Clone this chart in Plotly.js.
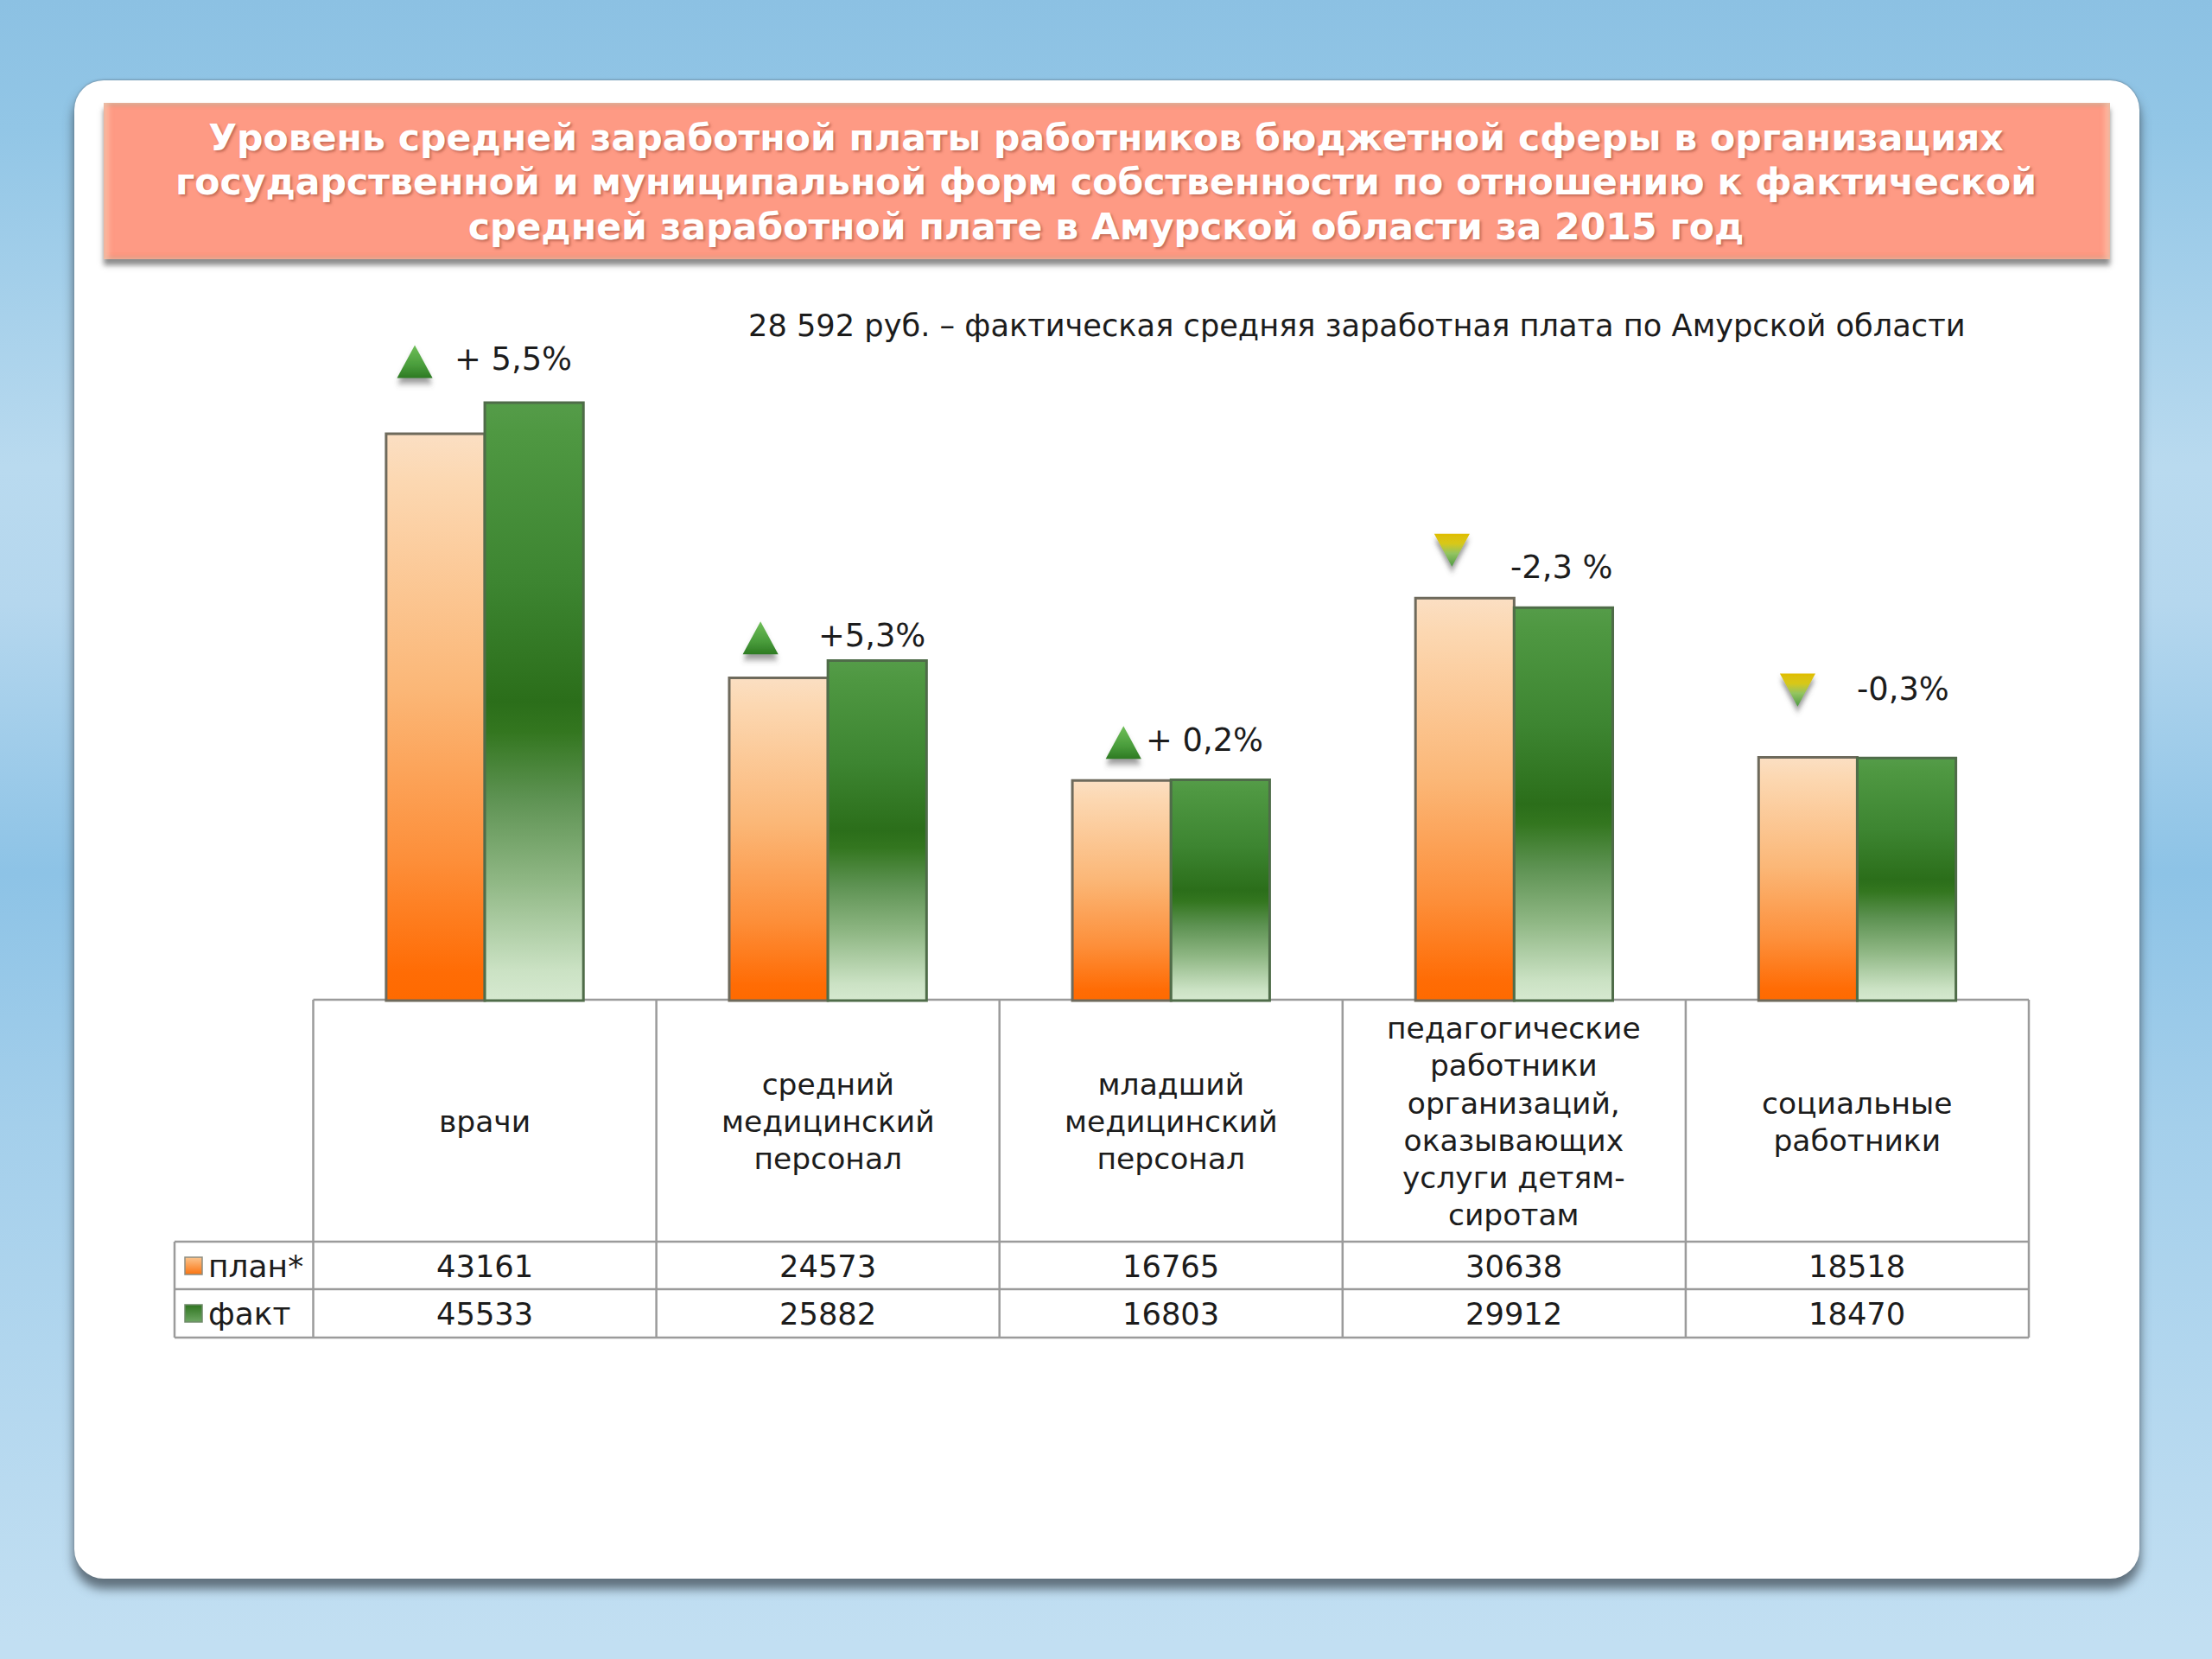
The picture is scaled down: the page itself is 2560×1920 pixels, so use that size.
<!DOCTYPE html>
<html>
<head>
<meta charset="utf-8">
<script src="https://cdn.plot.ly/plotly-3.0.1.min.js"></script>
<style>
html,body{margin:0;padding:0;width:2560px;height:1920px;overflow:hidden}
body{background:linear-gradient(180deg,#8cc1e3 0,#92c6e6 150px,#b9daef 540px,#b5d7ee 700px,#8dc3e6 1010px,#a4cfeb 1300px,#c2dff2 1900px);position:relative}
#panel{position:absolute;left:86px;top:93px;width:2390px;height:1734px;background:#fff;border-radius:34px;box-shadow:0 11px 12px 1px rgba(60,70,80,.72),0 -1px 2px rgba(80,90,100,.4);}
#band{position:absolute;left:120px;top:119px;width:2322px;height:181px;background:#fe9a84;box-shadow:inset 5px 0 6px rgba(255,225,200,.55),inset -5px 0 6px rgba(255,225,200,.55),inset 0 3px 4px rgba(170,120,100,.6),inset 0 -3px 4px rgba(200,110,90,.6),0 7px 6px rgba(70,70,70,.62)}
#chart{position:absolute;left:0;top:0;width:2560px;height:1920px}
</style>
</head>
<body>
<div id="panel"></div>
<div id="band"></div>
<div id="chart"></div>
<script>
var categories = ["врачи", "средний<br>медицинский<br>персонал", "младший<br>медицинский<br>персонал", "педагогические<br>работники<br>организаций,<br>оказывающих<br>услуги детям-<br>сиротам", "социальные<br>работники"];
var planName = "план*";
var factName = "факт";
var planValues = [43161, 24573, 16765, 30638, 18518];
var factValues = [45533, 25882, 16803, 29912, 18470];
var changeLabels = ["+ 5,5%", "+5,3%", "+ 0,2%", "-2,3 %", "-0,3%"];
var changeUp = [true, true, true, false, false];
var titleText = "Уровень средней заработной платы работников бюджетной сферы в организациях<br>государственной и муниципальной форм собственности по отношению к фактической<br>средней заработной плате в Амурской области за 2015 год";
var captionText = "28 592 руб. – фактическая средняя заработная плата по Амурской области";

/* layout geometry (pixels) */
var L = 362.5, R = 2348, BASE = 1158, W = 2560, H = 1920;
var colW = (R - L) / 5, pxPerUnit = 0.0152;
var FONT = "DejaVu Sans, Verdana, sans-serif", INK = "#1c1c1c", GRID = "#9b9b9b";
var xOf = function (px) { return (px - L) / colW - 0.5; };
var yOf = function (py) { return (BASE - py) / pxPerUnit; };

/* placement of the trend marks relative to each group's centre and top */
var markDx = [-81, -78, -55, -72, -69], markDy = [41, 20, 37, 73, 85];
var textDx = [33, 51, 39, 55, 53], textDy = [50, 29, 46, 47, 80];

var idx = categories.map(function (_, i) { return i; });
var markY = idx.map(function (i) { return factValues[i] + markDy[i] / pxPerUnit; });
var markX = idx.map(function (i) { return i + markDx[i] / colW; });

var upI = idx.filter(function (i) { return changeUp[i]; });
var dnI = idx.filter(function (i) { return !changeUp[i]; });

var traces = [
  { type: "bar", name: planName, x: idx, y: planValues, showlegend: false, hoverinfo: "none",
    marker: { color: "#fba55a", line: { color: "#6e6a5c", width: 3 } } },
  { type: "bar", name: factName, x: idx, y: factValues, showlegend: false, hoverinfo: "none",
    marker: { color: "#2f7420", line: { color: "#4f6c49", width: 3 } } },
  { type: "scatter", mode: "markers", x: upI.map(function (i) { return markX[i]; }), y: upI.map(function (i) { return markY[i]; }),
    showlegend: false, hoverinfo: "none",
    marker: { symbol: "triangle-up", size: 40, color: "#74c05c", gradient: { type: "vertical", color: "#2d7a22" }, line: { width: 0 } } },
  { type: "scatter", mode: "markers", x: dnI.map(function (i) { return markX[i]; }), y: dnI.map(function (i) { return markY[i]; }),
    showlegend: false, hoverinfo: "none",
    marker: { symbol: "triangle-down", size: 40, color: "#e3c000", gradient: { type: "vertical", color: "#4f9a45" }, line: { width: 0 } } },
  { type: "scatter", mode: "markers", x: [xOf(224)], y: [yOf(1465)], showlegend: false, hoverinfo: "none",
    marker: { symbol: "square", size: 20, color: "#fbc58f", gradient: { type: "vertical", color: "#fb7410" }, line: { color: "#8d8d80", width: 1.5 } } },
  { type: "scatter", mode: "markers", x: [xOf(224)], y: [yOf(1520)], showlegend: false, hoverinfo: "none",
    marker: { symbol: "square", size: 20, color: "#2f7420", gradient: { type: "vertical", color: "#6da663" }, line: { color: "#6f8a69", width: 1.5 } } }
];

var shapes = [];
function line(x0, y0, x1, y1) {
  shapes.push({ type: "line", xref: "x", yref: "y", layer: "below", x0: xOf(x0), y0: yOf(y0), x1: xOf(x1), y1: yOf(y1), line: { color: GRID, width: 2.5 } });
}
var T0 = 1157, T1 = 1437, T2 = 1492, T3 = 1548, KEYL = 202;
line(L, T0, R, T0);
line(KEYL, T1, R, T1);
line(KEYL, T2, R, T2);
line(KEYL, T3, R, T3);
line(KEYL, T1, KEYL, T3);
for (var c = 0; c <= 5; c++) line(L + c * colW, T0, L + c * colW, T3);

var annotations = [];
function note(text, xv, yv, size, xanchor) {
  annotations.push({ text: text, x: xv, xref: "x", y: yv, yref: "y", showarrow: false, xanchor: xanchor || "center", yanchor: "middle",
    font: { family: FONT, size: size, color: INK } });
}
idx.forEach(function (i) {
  note(categories[i], i, yOf((T0 + T1) / 2 + 1), 34.5);
  note(String(planValues[i]), i, yOf(1465), 35.3);
  note(String(factValues[i]), i, yOf(1520), 35.3);
  note(changeLabels[i], i + textDx[i] / colW, factValues[i] + textDy[i] / pxPerUnit, 36.8);
});
note(planName, xOf(239), yOf(1465), 36, "left");
note(factName, xOf(239), yOf(1520), 36, "left");
note(captionText, xOf(1570), yOf(376), 35.2);

var layout = {
  width: W, height: H,
  margin: { l: 0, r: 0, t: 0, b: 0, pad: 0 },
  paper_bgcolor: "rgba(0,0,0,0)", plot_bgcolor: "rgba(0,0,0,0)",
  barmode: "group", bargap: 0.425, bargroupgap: 0,
  showlegend: false, hovermode: false,
  font: { family: FONT, color: INK },
  title: { text: titleText, x: 0.5, xref: "container", xanchor: "center", y: 1 - 173.5 / H, yref: "container", yanchor: "middle",
    font: { family: FONT, size: 42.6, color: "#fff", weight: 700, shadow: "2px 2px 3px rgba(150,70,50,.55)" } },
  xaxis: { visible: false, range: [xOf(0), xOf(W)], fixedrange: true },
  yaxis: { visible: false, range: [yOf(H), yOf(0)], fixedrange: true },
  shapes: shapes,
  annotations: annotations
};

function addGradient(defs, id, stops) {
  var NS = "http://www.w3.org/2000/svg";
  var g = document.createElementNS(NS, "linearGradient");
  g.setAttribute("id", id);
  g.setAttribute("x1", "0"); g.setAttribute("y1", "0"); g.setAttribute("x2", "0"); g.setAttribute("y2", "1");
  stops.forEach(function (s) {
    var st = document.createElementNS(NS, "stop");
    st.setAttribute("offset", s[0]); st.setAttribute("stop-color", s[1]);
    g.appendChild(st);
  });
  defs.appendChild(g);
}
function tightenLines(textEl, k, recentre) {
  var ls = textEl.querySelectorAll("tspan.line");
  var off = recentre ? (ls.length - 1) / 2 * (1.3 - k) : 0;
  ls.forEach(function (t, i) { t.setAttribute("dy", (off + i * k) + "em"); });
}

Plotly.newPlot("chart", traces, layout, { staticPlot: true, displayModeBar: false }).then(function (gd) {
  var svg = gd.querySelector(".main-svg");
  var defs = svg.querySelector("defs");
  addGradient(defs, "gradPlan", [[0, "#fbdfc3"], [0.08, "#fcd8b2"], [0.45, "#fbb777"], [0.75, "#fd8f3a"], [0.95, "#ff6c05"], [1, "#ff6a00"]]);
  addGradient(defs, "gradFact", [[0, "#559c49"], [0.05, "#4f9842"], [0.3, "#3d8531"], [0.5, "#2b6e1a"], [0.55, "#33761f"], [0.66, "#5d9252"], [0.8, "#8fb784"], [0.95, "#cbe2c4"], [1, "#d6e9d0"]]);
  addGradient(defs, "gradUp", [[0, "#6fbf58"], [0.6, "#4a9d3c"], [1, "#2d7a22"]]);
  addGradient(defs, "gradDown", [[0, "#dfbd00"], [0.3, "#d8c81a"], [0.6, "#93c460"], [1, "#4f9a45"]]);
  var bars = gd.querySelectorAll(".barlayer .trace");
  ["gradPlan", "gradFact"].forEach(function (id, t) {
    bars[t].querySelectorAll("path").forEach(function (p) { p.style.fill = "url(#" + id + ")"; });
  });
  var NS = "http://www.w3.org/2000/svg";
  var f = document.createElementNS(NS, "filter");
  f.setAttribute("id", "markShadow");
  f.setAttribute("x", "-50%"); f.setAttribute("y", "-50%"); f.setAttribute("width", "200%"); f.setAttribute("height", "220%");
  var d = document.createElementNS(NS, "feDropShadow");
  d.setAttribute("dx", "0"); d.setAttribute("dy", "5"); d.setAttribute("stdDeviation", "3");
  d.setAttribute("flood-color", "#555"); d.setAttribute("flood-opacity", "0.6");
  f.appendChild(d); defs.appendChild(f);
  var sc = gd.querySelectorAll(".scatterlayer .trace");
  ["gradUp", "gradDown"].forEach(function (id, t) {
    sc[t].querySelectorAll("path.point").forEach(function (p) {
      p.setAttribute("transform", p.getAttribute("transform") + " scale(0.89,1.27)");
      p.setAttribute("filter", "url(#markShadow)");
      p.style.fill = "url(#" + id + ")";
    });
  });
  gd.querySelectorAll(".annotation-text").forEach(function (t) { tightenLines(t, 1.252, true); });
  var tt = gd.querySelector(".gtitle");
  if (tt) tightenLines(tt, 1.21, false);
});
</script>
</body>
</html>
